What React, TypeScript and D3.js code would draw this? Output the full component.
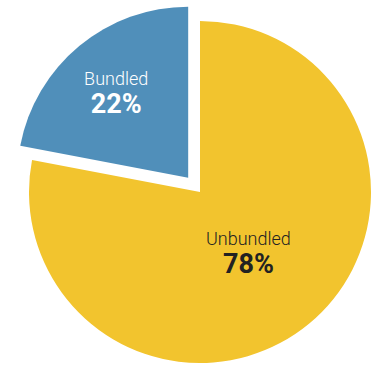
import React from "react";
import * as d3 from "d3";

const categories = ["Unbundled", "Bundled"];
const values = [78, 22];
const colors = ["#f2c42e", "#508fba"];
const textColors = ["#222222", "#ffffff"];

export default function App() {
  const width = 382;
  const height = 365;
  const cx = 200;
  const cy = 192;
  const r = 171;
  const data = categories.map((c, i) => ({ c, v: values[i], i }));
  const pie = d3
    .pie<any>()
    .value((d) => d.v)
    .sort(null)
    .startAngle(0)
    .endAngle(2 * Math.PI);
  const arcs = pie(data);
  const arc = d3.arc<any>().innerRadius(0).outerRadius(r);
  const explode = [0, 18.5];
  const labelR = [76, 113];
  return (
    <svg
      width={width}
      height={height}
      style={{ position: "absolute", left: 0, top: 0 }}
    >
      {arcs.map((a, k) => {
        const mid = (a.startAngle + a.endAngle) / 2;
        const ox = Math.sin(mid) * explode[k];
        const oy = -Math.cos(mid) * explode[k];
        const lx = Math.sin(mid) * labelR[k];
        const ly = -Math.cos(mid) * labelR[k];
        return (
          <g key={a.data.c} transform={`translate(${cx + ox},${cy + oy})`}>
            <path d={arc(a) as string} fill={colors[k]} />
            <text
              x={lx}
              y={ly - 6}
              textAnchor="middle"
              fill={textColors[k]}
              style={{ fontFamily: "Roboto", fontSize: 18, fontWeight: 300 }}
            >
              {a.data.c}
            </text>
            <text
              x={lx}
              y={ly + 22}
              textAnchor="middle"
              fill={textColors[k]}
              style={{ fontFamily: "Roboto", fontSize: 27, fontWeight: 700 }}
            >
              {a.data.v}%
            </text>
          </g>
        );
      })}
    </svg>
  );
}
